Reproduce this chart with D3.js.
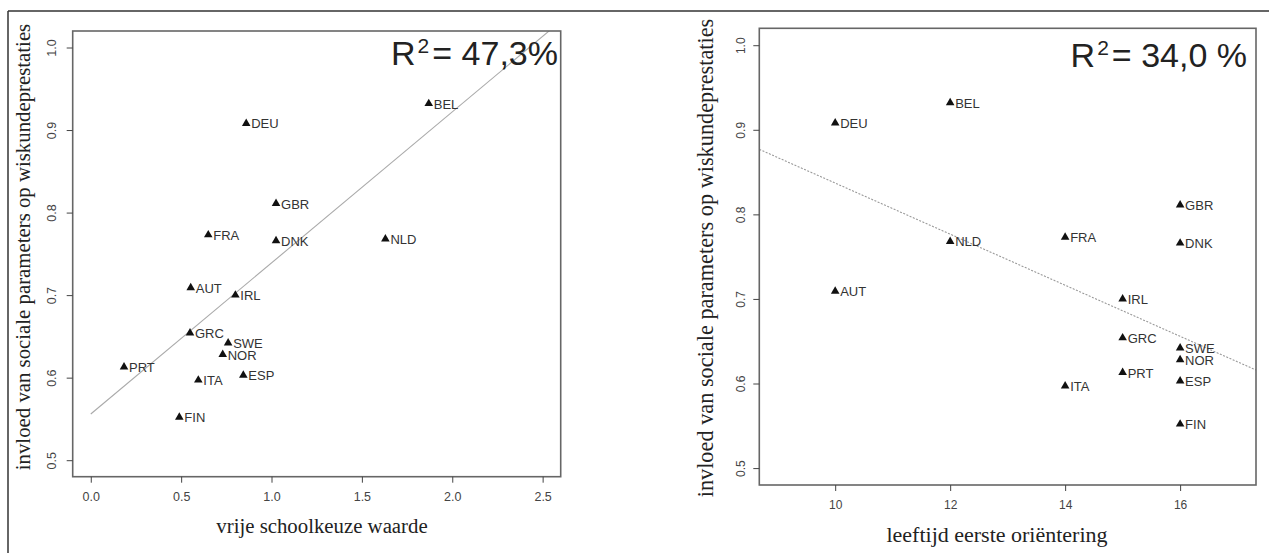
<!DOCTYPE html>
<html><head><meta charset="utf-8">
<script src="https://cdn.jsdelivr.net/npm/d3@7"></script>
<style>html,body{margin:0;padding:0;background:#fff;}svg{display:block;}</style>
</head><body>
<svg id="chart" width="1269" height="553"></svg>
<script>
// ---- data ----
const countries = ["DEU","BEL","GBR","FRA","DNK","NLD","AUT","IRL","GRC","SWE","NOR","PRT","ITA","ESP","FIN"];
const socialInfluence = [0.908,0.932,0.811,0.773,0.766,0.768,0.709,0.700,0.654,0.642,0.628,0.613,0.597,0.603,0.552];
const schoolChoice = [0.86,1.87,1.025,0.65,1.025,1.63,0.553,0.80,0.549,0.76,0.73,0.184,0.595,0.844,0.49];
const firstTrackingAge = [10,12,16,14,16,12,10,15,15,16,16,15,14,16,16];
const xTicksLeft = [0.0,0.5,1.0,1.5,2.0,2.5];
const xTicksRight = [10,12,14,16];
const yTicks = [0.5,0.6,0.7,0.8,0.9,1.0];
const fitLeft = {intercept:0.556, slope:0.183, from:0.0};
const fitRight = {intercept:1.139, slope:-0.0302, from:8.68};
const r2Left = "47,3%";
const r2Right = "34,0 %";
const yTitle = "invloed van sociale parameters op wiskundeprestaties";
const xTitleLeft = "vrije schoolkeuze waarde";
const xTitleRight = "leeftijd eerste oriëntering";

const svg = d3.select("#chart");
// outer frame (top + left)
svg.append("line").attr("x1",8).attr("x2",1269).attr("y1",11).attr("y2",11).attr("stroke","#333").attr("stroke-width",1.5);
svg.append("line").attr("x1",8).attr("x2",8).attr("y1",11).attr("y2",553).attr("stroke","#333").attr("stroke-width",1.5);

function panel(cfg){
  const x = d3.scaleLinear().domain(cfg.xDomain).range([cfg.left,cfg.right]);
  const y = d3.scaleLinear().domain([0.48,1.02]).range([cfg.bottom,cfg.top]);
  const g = svg.append("g");
  const clipId = "clip"+cfg.id;
  svg.append("clipPath").attr("id",clipId).append("rect")
    .attr("x",cfg.left).attr("y",cfg.top).attr("width",cfg.right-cfg.left).attr("height",cfg.bottom-cfg.top);
  // fit line
  const xEnd = cfg.xDomain[1];
  g.append("line").attr("clip-path","url(#"+clipId+")")
    .attr("x1",x(cfg.fit.from)).attr("y1",y(cfg.fit.intercept+cfg.fit.slope*cfg.fit.from))
    .attr("x2",x(xEnd)).attr("y2",y(cfg.fit.intercept+cfg.fit.slope*xEnd))
    .attr("stroke",cfg.lineColor).attr("stroke-width",1.1).attr("stroke-dasharray",cfg.dash);
  // box
  g.append("rect").attr("x",cfg.left).attr("y",cfg.top).attr("width",cfg.right-cfg.left).attr("height",cfg.bottom-cfg.top)
    .attr("fill","none").attr("stroke","#666").attr("stroke-width",1.6);
  // axes
  const xa = g.append("g").attr("transform","translate(0,"+cfg.bottom+")")
    .call(d3.axisBottom(x).tickValues(cfg.xTicks).tickSize(6).tickPadding(9).tickFormat(cfg.xFmt));
  xa.select(".domain").remove();
  xa.selectAll("line").attr("stroke","#444");
  xa.selectAll("text").attr("font-family","Liberation Sans, Arial, sans-serif").attr("font-size",cfg.tickFont).attr("fill","#444");
  const ya = g.append("g").attr("transform","translate("+cfg.left+",0)")
    .call(d3.axisLeft(y).tickValues(yTicks).tickSize(6).tickFormat(d3.format(".1f")));
  ya.select(".domain").remove();
  ya.selectAll("line").attr("stroke","#444");
  ya.selectAll("text").attr("font-family","Liberation Sans, Arial, sans-serif").attr("font-size",cfg.tickFont).attr("fill","#444")
    .attr("transform","translate("+(cfg.yLabX-cfg.left)+",0) rotate(-90)").attr("x",0).attr("y",0).attr("dy","0").attr("text-anchor","middle");
  // points
  const idx = d3.range(countries.length);
  g.selectAll("path.pt").data(idx).join("path").attr("class","pt")
    .attr("d",d3.symbol(d3.symbolTriangle,32))
    .attr("transform",i=>"translate("+x(cfg.xs[i])+","+y(socialInfluence[i])+")")
    .attr("fill","#111");
  g.selectAll("text.lbl").data(idx).join("text").attr("class","lbl")
    .attr("x",i=>x(cfg.xs[i])+5).attr("y",i=>y(socialInfluence[i])+5)
    .attr("font-family","Liberation Sans, Arial, sans-serif").attr("font-size",13).attr("fill","#333")
    .text(i=>countries[i]);
  // R2
  const rt = g.append("text").attr("x",cfg.r2x).attr("y",cfg.r2y).attr("text-anchor","end")
    .attr("font-family","Liberation Sans, Arial, sans-serif").attr("font-size",34).attr("fill","#222");
  rt.append("tspan").text("R");
  rt.append("tspan").attr("font-size",21).attr("dy",-12).attr("dx",2).text("2");
  rt.append("tspan").attr("dy",12).attr("dx",3).text("= "+cfg.r2);
  // titles
  g.append("text").attr("x",cfg.xTitleX).attr("y",cfg.xTitleY).attr("text-anchor","middle")
    .attr("font-family","Liberation Serif, serif").attr("font-size",cfg.xTitleFont).attr("fill","#222").text(cfg.xTitle);
  g.append("text").attr("transform","translate("+cfg.yTitleX+","+cfg.yTitleY+") rotate(-90)").attr("text-anchor","middle")
    .attr("font-family","Liberation Serif, serif").attr("font-size",cfg.yTitleFont).attr("fill","#222").text(yTitle);
}

panel({id:"L", left:72.7, right:560.7, top:31, bottom:476.7, xDomain:[-0.1,2.6], xs:schoolChoice,
  xTicks:xTicksLeft, xFmt:d3.format(".1f"), fit:fitLeft, lineColor:"#aaa", dash:null, tickFont:12.5, yLabX:56,
  r2:r2Left, r2x:558, r2y:65, xTitle:xTitleLeft, xTitleX:322, xTitleY:533, yTitleX:30, yTitleY:247,
  xTitleFont:20.8, yTitleFont:20.8});
panel({id:"R", left:759.3, right:1256, top:28.3, bottom:485, xDomain:[8.68,17.32], xs:firstTrackingAge,
  xTicks:xTicksRight, xFmt:d3.format("d"), fit:fitRight, lineColor:"#999", dash:"2,1.5", tickFont:12, yLabX:745,
  r2:r2Right, r2x:1247, r2y:67, xTitle:xTitleRight, xTitleX:997, xTitleY:542, yTitleX:713, yTitleY:258,
  xTitleFont:22, yTitleFont:22.3});
</script>
</body></html>
